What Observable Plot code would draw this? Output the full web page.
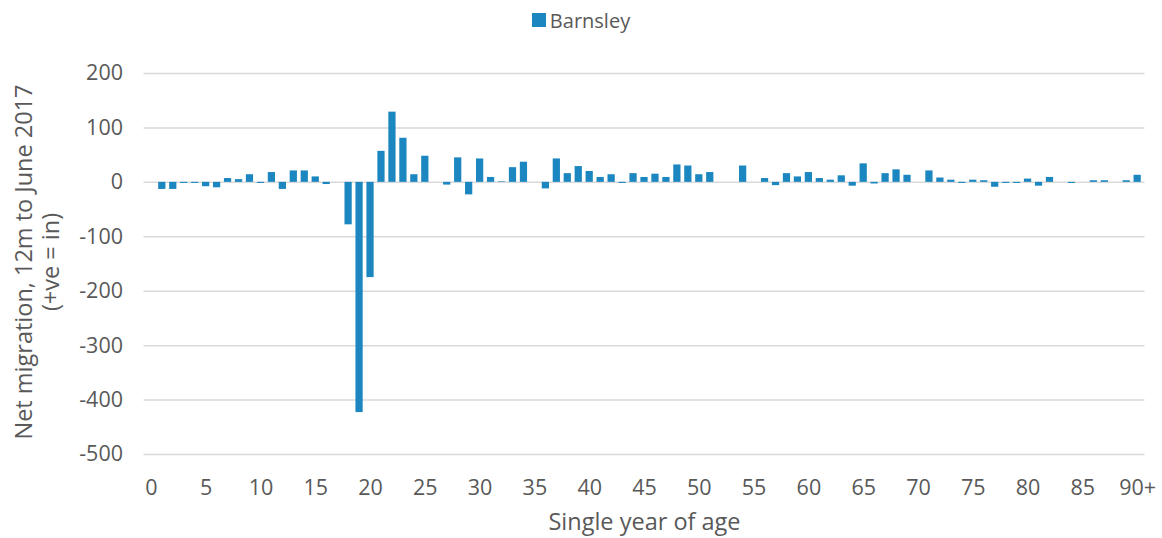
<!DOCTYPE html>
<html>
<head>
<meta charset="utf-8">
<script src="https://cdn.jsdelivr.net/npm/d3@7"></script>
<script src="https://cdn.jsdelivr.net/npm/@observablehq/plot@0.6"></script>
<style>
  html, body { margin: 0; padding: 0; background: #ffffff; }
  body { width: 1162px; height: 538px; overflow: hidden; font-family: "Open Sans", sans-serif; color: #595959; }
  #legend { height: 40px; display: flex; justify-content: center; align-items: center; font-size: 20px; }
  #legend .sw { width: 14px; height: 14px; background: #1b86bf; margin-right: 4px; }
  #chart svg { display: block; }
</style>
</head>
<body>
<div id="legend"><span class="sw"></span><span>Barnsley</span></div>
<div id="chart"></div>
<script>
// Single year of age categories
const ages = d3.range(0, 91);
// Net migration values (Barnsley), one per age 0..90+
const netMigration = [
  0, -13, -13, -2, -2, -8, -10, 7, 5, 14,
  -2, 18, -13, 21, 21, 10, -4, 0, -78, -423,
  -175, 57, 129, 81, 14, 48, 0, -5, 45, -23,
  43, 9, 1, 27, 37, 0, -12, 43, 16, 29,
  20, 9, 14, -2, 16, 9, 15, 9, 32, 30,
  14, 18, 0, 0, 30, 0, 7, -6, 16, 10,
  18, 7, 4, 12, -7, 34, -3, 16, 23, 13,
  0, 21, 8, 4, -2, 4, 3, -9, -2, -2,
  6, -7, 9, 0, -2, 0, 3, 3, 0, 3,
  13
];
const seriesName = "Barnsley";
// Axis ticks
const xTickValues = d3.range(0, 91, 5);
const xTickLabels = ["0","5","10","15","20","25","30","35","40","45","50","55","60","65","70","75","80","85","90+"];
const yTickValues = [-500, -400, -300, -200, -100, 0, 100, 200];
const yTitleLines = ["Net migration, 12m to June 2017", "(+ve = in)"];
const xTitle = "Single year of age";

const data = ages.map((a, i) => ({age: a, value: netMigration[i]}));
const textColor = "#595959";

const chart = Plot.plot({
  width: 1162,
  height: 498,
  marginLeft: 143.5,
  marginRight: 17.5,
  marginTop: 33,
  marginBottom: 84,
  style: {fontFamily: "Open Sans, sans-serif", fontSize: "20px", color: textColor, background: "#fff", overflow: "visible"},
  x: {type: "band", domain: ages, padding: 0.34, axis: null},
  y: {domain: [-500, 200], axis: null},
  marks: [
    Plot.ruleY(yTickValues, {stroke: "#d9d9d9", strokeWidth: 1.5}),
    Plot.barY(data, {x: "age", y: "value", fill: "#1b86bf"}),
    Plot.axisY({ticks: yTickValues, tickSize: 0, tickPadding: 21, fontSize: 21.5, fill: textColor, label: null,
      tickFormat: d => String(d)}),
    Plot.axisX({ticks: xTickValues, tickSize: 0, tickPadding: 25, fontSize: 21.5, fill: textColor,
      tickFormat: d => xTickLabels[xTickValues.indexOf(d)], label: null}),
    Plot.text([xTitle], {frameAnchor: "bottom", dy: 75, fontSize: 23.5, fill: textColor, text: d => d}),
    Plot.text([yTitleLines[0]], {frameAnchor: "left", textAnchor: "middle", rotate: -90, dx: -119.5, dy: -2, fontSize: 23.5, fill: textColor, text: d => d}),
    Plot.text([yTitleLines[1]], {frameAnchor: "left", textAnchor: "middle", rotate: -90, dx: -93, dy: -2, fontSize: 23.5, fill: textColor, text: d => d})
  ]
});
document.getElementById("chart").appendChild(chart);
</script>
</body>
</html>
